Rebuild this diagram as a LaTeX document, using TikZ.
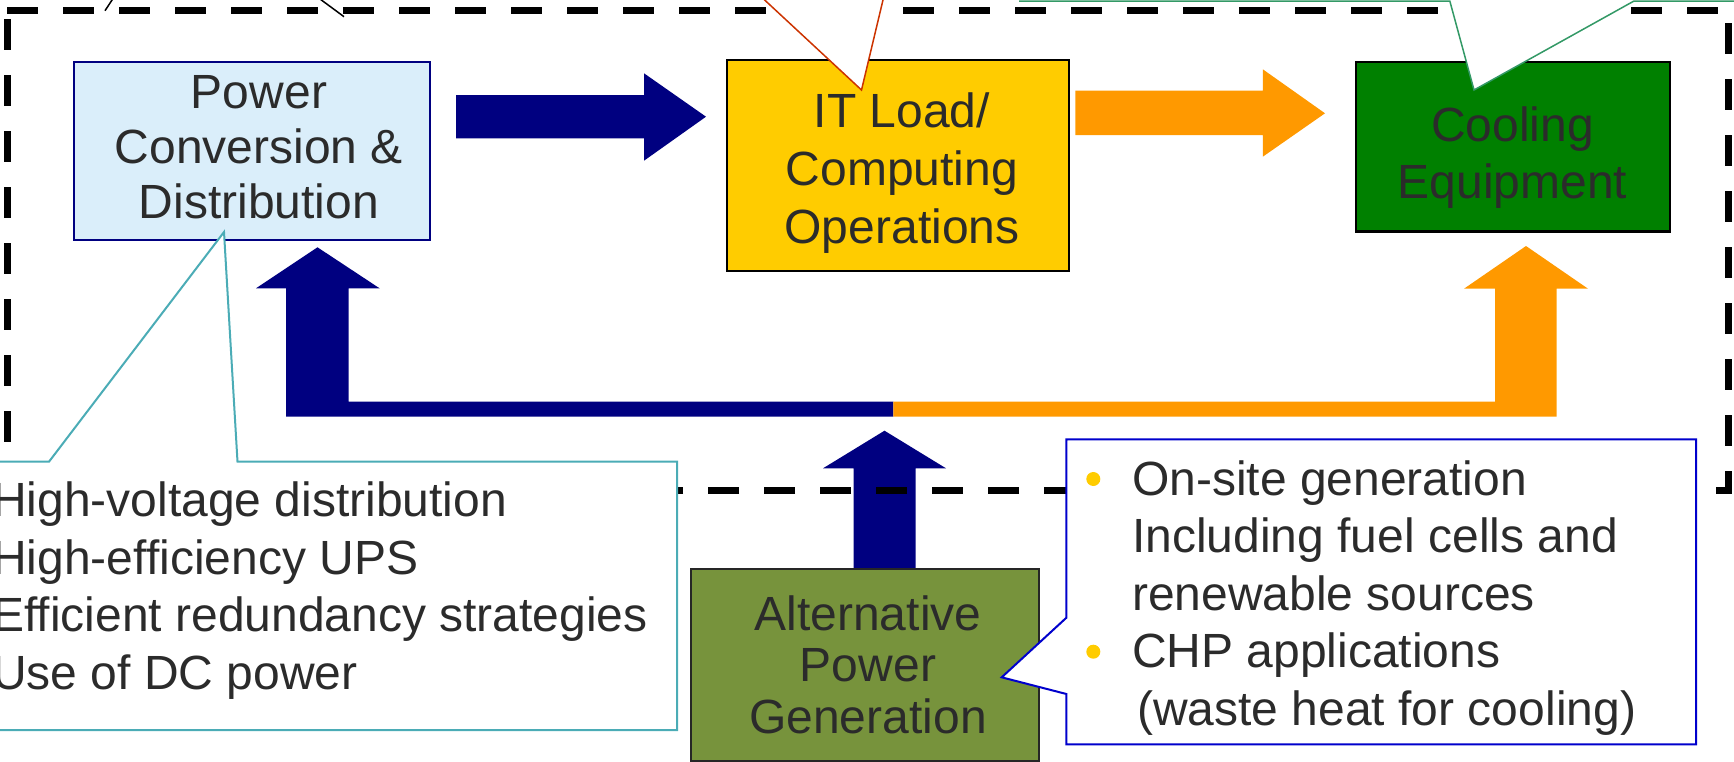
\documentclass[tikz,border=0pt]{standalone}
\usepackage{fontspec}
\setmainfont{Liberation Sans}
\definecolor{navyc}{HTML}{000080}
\definecolor{orangec}{HTML}{FF9900}
\definecolor{yellowc}{HTML}{FFCC00}
\definecolor{greenc}{HTML}{008000}
\definecolor{olivec}{HTML}{77933C}
\definecolor{lightbluec}{HTML}{DAEEFA}
\definecolor{txtc}{HTML}{2B2B2B}
\definecolor{tealc}{HTML}{4BACB6}
\definecolor{callbluec}{HTML}{0000CC}
\definecolor{redc}{HTML}{CC3300}
\definecolor{cgreenc}{HTML}{339966}
\newcommand\mytop{\rule{0pt}{36pt}}
\newcommand\mybot{\rule[-12pt]{0pt}{12pt}}
\begin{document}
\begin{tikzpicture}[x=1pt,y=-1pt,
  blockbox/.style={draw, line width=2pt, inner sep=0pt, anchor=north west},
  lbl/.style={text=txtc, inner sep=0pt, align=center},
  frameline/.style={line width=7pt, dash pattern=on 31pt off 25pt, black},
  callout/.style={fill=white, line width=2pt, line join=miter}
]
\useasboundingbox (0,0) rectangle (1734,761);

% block arrows
\fill[navyc] (456,95) -- (644,95) -- (644,73.3) -- (706,116.7) -- (644,160.7) -- (644,138.3) -- (456,138.3) -- cycle;
\fill[orangec] (1075.3,90.7) -- (1262.8,90.7) -- (1262.8,69.3) -- (1325,113.3) -- (1262.8,156.7) -- (1262.8,135) -- (1075.3,135) -- cycle;
\fill[navyc] (286,416.7) -- (286,288.3) -- (256,288.3) -- (317.5,247.3) -- (379.6,288.3) -- (348.6,288.3) -- (348.6,401.7) -- (893.3,401.7) -- (893.3,416.7) -- cycle;
\fill[orangec] (893.3,401.7) -- (1495,401.7) -- (1495,288.7) -- (1464,288.7) -- (1526,246) -- (1588,288.7) -- (1556.7,288.7) -- (1556.7,416.7) -- (893.3,416.7) -- cycle;
\fill[navyc] (853.5,570) -- (853.5,468.3) -- (823,468.3) -- (884.5,430.7) -- (946,468.3) -- (915.5,468.3) -- (915.5,570) -- cycle;

% dashed frame
\draw[frameline] (7,10) -- (1734,10);
\draw[frameline] (7,19) -- (7,490);
\draw[frameline] (1728,23) -- (1728,490) -- (7,490);

% boxes
\node[blockbox, draw=navyc, fill=lightbluec, minimum width=356.7pt, minimum height=178.6pt] (pc) at (72.7,60.7) {};
\node[blockbox, draw=black, fill=yellowc, minimum width=342.2pt, minimum height=211pt] (it) at (725.5,59) {};
\node[blockbox, draw=black, line width=2.5pt, fill=greenc, minimum width=314pt, minimum height=169.3pt] (cool) at (1354.8,60.7) {};
\node[blockbox, draw=black!85, fill=olivec, minimum width=347.5pt, minimum height=192.3pt] (alt) at (690,567.7) {};

% callouts
\filldraw[callout, draw=tealc] (-10,461.7) -- (49,461.7) -- (224,232) -- (237.5,461.7) -- (677,461.7) -- (677,730) -- (-10,730) -- cycle;
\filldraw[callout, draw=callbluec] (1066.4,439.3) -- (1696,439.3) -- (1696,744.3) -- (1066.4,744.3) -- (1066.4,694) -- (1001.7,677.3) -- (1066.4,617.7) -- cycle;
\fill[white] (761.4,-3) -- (861.5,90) -- (883.7,-3) -- cycle;
\draw[redc, line width=1.5pt] (761.4,-3) -- (861.5,90) -- (883.7,-3);
\fill[white] (1449.8,1) -- (1474,90) -- (1634,1) -- cycle;
\draw[cgreenc, line width=1.5pt] (1019,1) -- (1449.8,1) -- (1474,90) -- (1634,1) -- (1740,1);
\draw[black, line width=1.5pt] (105,10.7) -- (112.7,-1);
\draw[black, line width=1.5pt] (320,-1) -- (344,16.7);

% bullets
\fill[yellowc] (1093.3,479) circle (7pt);
\fill[yellowc] (1093.3,651.7) circle (7pt);

% texts
\node[lbl, font=\fontsize{48pt}{55pt}\selectfont] (pctext) at (259,151.3) {\mytop Power\\Conversion \&\\Distribution\mybot};
\node[lbl, font=\fontsize{48pt}{57.8pt}\selectfont] (ittext) at (902,173.5) {\mytop IT Load/\\Computing\\Operations\mybot};
\node[lbl, font=\fontsize{48pt}{57.3pt}\selectfont] (cooltext) at (1512.5,158.3) {\mytop Cooling\\Equipment\mybot};
\node[lbl, font=\fontsize{48pt}{51.5pt}\selectfont] (alttext) at (868,669.5) {\mytop Alternative\\Power\\Generation\mybot};
\node[lbl, align=left, anchor=west, font=\fontsize{48pt}{57.5pt}\selectfont] (lefttext) at (-8,590.95) {\mytop High-voltage distribution\\High-efficiency UPS\\Efficient redundancy strategies\\Use of DC power\mybot};
\node[lbl, align=left, anchor=west, font=\fontsize{48pt}{57.5pt}\selectfont] (righttext) at (1132,598) {\mytop On-site generation\\Including fuel cells and\\renewable sources\\CHP applications\\\hspace*{5pt}(waste heat for cooling)\mybot};
\end{tikzpicture}
\end{document}
